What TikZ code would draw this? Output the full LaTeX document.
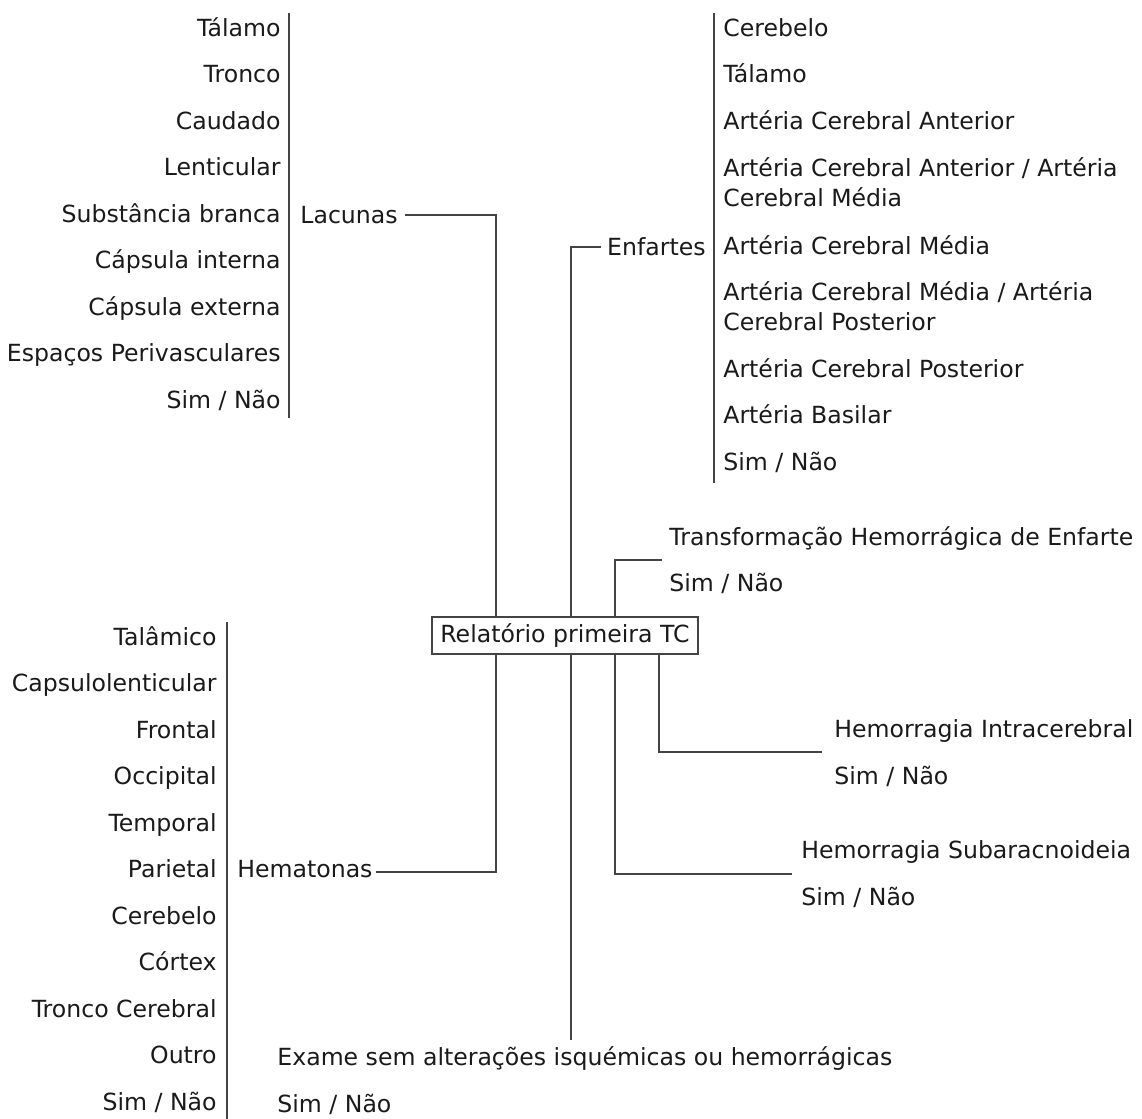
\documentclass[tikz,border=0pt]{standalone}
\usepackage{fontspec}
\setmainfont{DejaVu Sans}
\definecolor{txtc}{HTML}{1A1A1A}
\definecolor{linec}{HTML}{444444}
\tikzset{
  lbl/.style={inner sep=0pt, anchor=base west, text=txtc, font=\fontsize{11.8}{14}\selectfont},
  lblr/.style={lbl, anchor=base east},
  conn/.style={draw=linec, line width=0.7pt},
  bracketline/.style={draw=linec, line width=0.7pt},
  rootbox/.style={draw=linec, line width=0.7pt, inner sep=0pt, minimum width=133pt, minimum height=18.5pt, text=txtc, font=\fontsize{11.8}{14}\selectfont}
}
\begin{document}
\begin{tikzpicture}[x=0.5pt,y=-0.5pt]
\useasboundingbox[fill=white] (0,0) rectangle (1142,1119);

% root
\node[rootbox] (root) at (565,635.5) {Relatório primeira TC};

% Lacunas column
\foreach \t [count=\i from 0] in {Tálamo,Tronco,Caudado,Lenticular,Substância branca,Cápsula interna,Cápsula externa,Espaços Perivasculares,Sim / Não}
  \node[lblr] (la\i) at (281,{28+46.5*\i+8}) {\t};
\coordinate (laT) at (289,13);
\coordinate (laB) at (289,418);
\draw[bracketline] (laT) -- (laB);
\node[lbl] (lac) at (300,223) {Lacunas};

% Enfartes column
\node[lbl] (e0) at (723,36) {Cerebelo};
\node[lbl] (e1) at (723,82.5) {Tálamo};
\node[lbl] (e2) at (723,129) {Artéria Cerebral Anterior};
\node[lbl] (e3) at (723,176) {Artéria Cerebral Anterior / Artéria};
\node[lbl] (e3b) at (723,206) {Cerebral Média};
\node[lbl] (e4) at (723,254) {Artéria Cerebral Média};
\node[lbl] (e5) at (723,300) {Artéria Cerebral Média / Artéria};
\node[lbl] (e5b) at (723,330) {Cerebral Posterior};
\node[lbl] (e6) at (723,377) {Artéria Cerebral Posterior};
\node[lbl] (e7) at (723,423.5) {Artéria Basilar};
\node[lbl] (e8) at (723,470.5) {Sim / Não};
\coordinate (enT) at (714,13);
\coordinate (enB) at (714,483);
\draw[bracketline] (enT) -- (enB);
\node[lblr] (enf) at (706,255) {Enfartes};

% Transformacao
\node[lbl] (tr) at (669,545) {Transformação Hemorrágica de Enfarte};
\node[lbl] (trs) at (669,591) {Sim / Não};

% Hemorragia Intracerebral
\node[lbl] (hi) at (834,737) {Hemorragia Intracerebral};
\node[lbl] (his) at (834,784) {Sim / Não};

% Hemorragia Subaracnoideia
\node[lbl] (hs) at (801,858.5) {Hemorragia Subaracnoideia};
\node[lbl] (hss) at (801,905) {Sim / Não};

% Hematonas column
\foreach \t [count=\i from 0] in {Talâmico,Capsulolenticular,Frontal,Occipital,Temporal,Parietal,Cerebelo,Córtex,Tronco Cerebral,Outro,Sim / Não}
  \node[lblr] (h\i) at (217,{637+46.5*\i+8}) {\t};
\coordinate (hmT) at (227,622);
\coordinate (hmB) at (227,1119);
\draw[bracketline] (hmT) -- (hmB);
\node[lbl] (hem) at (237,877.5) {Hematonas};

% Exame
\node[lbl] (ex) at (277,1065.5) {Exame sem alterações isquémicas ou hemorrágicas};
\node[lbl] (exs) at (277,1112) {Sim / Não};

% connectors
\coordinate (lacH) at (496,215);
\draw[conn] ([xshift=3.5pt]lac.east |- lacH) -- (lacH) -- (lacH |- root.north);
\coordinate (enfH) at (571,247);
\draw[conn] ([xshift=-3pt]enf.west |- enfH) -- (enfH) -- (enfH |- root.north);
\coordinate (trH) at (615,560);
\draw[conn] ([xshift=-3.5pt]tr.west |- trH) -- (trH) -- (trH |- root.north);
\coordinate (hiH) at (659,752);
\draw[conn] (root.south -| hiH) -- (hiH) -- ([xshift=-6pt]hi.west |- hiH);
\coordinate (hsH) at (615,874);
\draw[conn] (root.south -| hsH) -- (hsH) -- ([xshift=-4.5pt]hs.west |- hsH);
\coordinate (hemH) at (496,872);
\draw[conn] ([xshift=1.5pt]hem.east |- hemH) -- (hemH) -- (hemH |- root.south);
\coordinate (exE) at (571,1040);
\draw[conn] (root.south -| exE) -- (exE);
\end{tikzpicture}
\end{document}
